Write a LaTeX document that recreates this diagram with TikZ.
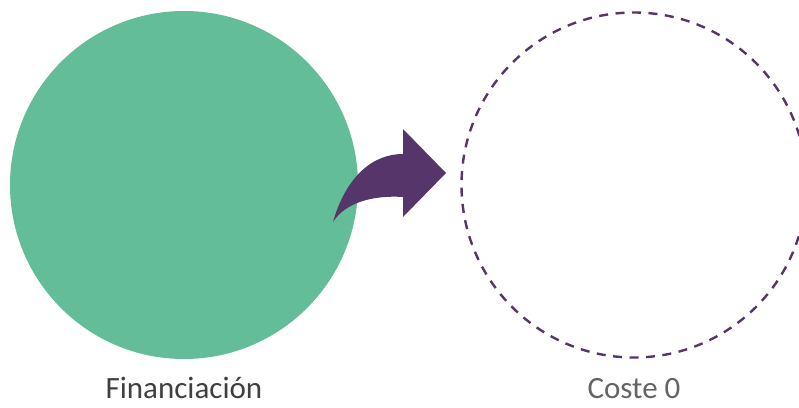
\documentclass[tikz,border=0pt]{standalone}
\usepackage{fontspec}
\setmainfont{Carlito}
\definecolor{grn}{RGB}{98,189,152}
\definecolor{prp}{RGB}{86,54,106}
\definecolor{txtA}{RGB}{64,64,64}
\definecolor{txtB}{RGB}{100,100,100}
\begin{document}
\begin{tikzpicture}[x=1pt,y=-1pt,
  lbl/.style={font=\fontsize{31}{34}\selectfont, anchor=base, inner sep=0pt},
  dashring/.style={draw=prp, line width=2.4pt, dash pattern=on 9pt off 7.5pt}]
\useasboundingbox (0,0) rectangle (799,407);
\node[circle, fill=grn, minimum size=348pt, inner sep=0pt] (fin) at (184,185) {};
\node[circle, dashring, minimum size=345pt, inner sep=0pt] (cos) at (634,185) {};
\fill[prp] (333,222) .. controls (345,180) and (370,154) .. (403,154) -- (403,129) -- (446,173) -- (403,217) -- (403,197) .. controls (372,195) and (345,203) .. cycle;
\node[lbl, text=txtA] (finl) at (184,398) {Financiación};
\node[lbl, text=txtB] (cosl) at (634,398) {Coste 0};
\end{tikzpicture}
\end{document}
